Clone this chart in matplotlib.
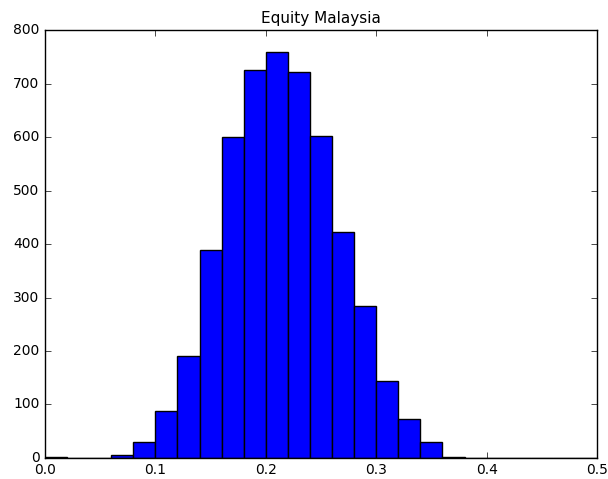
import numpy as np
import matplotlib
matplotlib.use("Agg")
import matplotlib.pyplot as plt

plt.style.use("classic")

# bin edges (width 0.02) and counts
bin_edges = np.linspace(0.0, 0.5, 26)
counts = [2, 0, 0, 5, 30, 88, 190, 388, 601, 725, 760, 722, 603,
          422, 285, 143, 72, 30, 2, 0, 0, 0, 0, 0, 0]

fig = plt.figure(figsize=(6.08, 4.79), dpi=100)
ax = fig.add_axes([0.074, 0.044, 0.908, 0.893])

ax.hist(bin_edges[:-1], bins=bin_edges, weights=counts, color="blue")
ax.set_xlim(0.0, 0.5)
ax.set_ylim(0, 800)
ax.set_title("Equity Malaysia", fontsize=11)
ax.tick_params(labelsize=10)

fig.savefig("out.png", dpi=100)
